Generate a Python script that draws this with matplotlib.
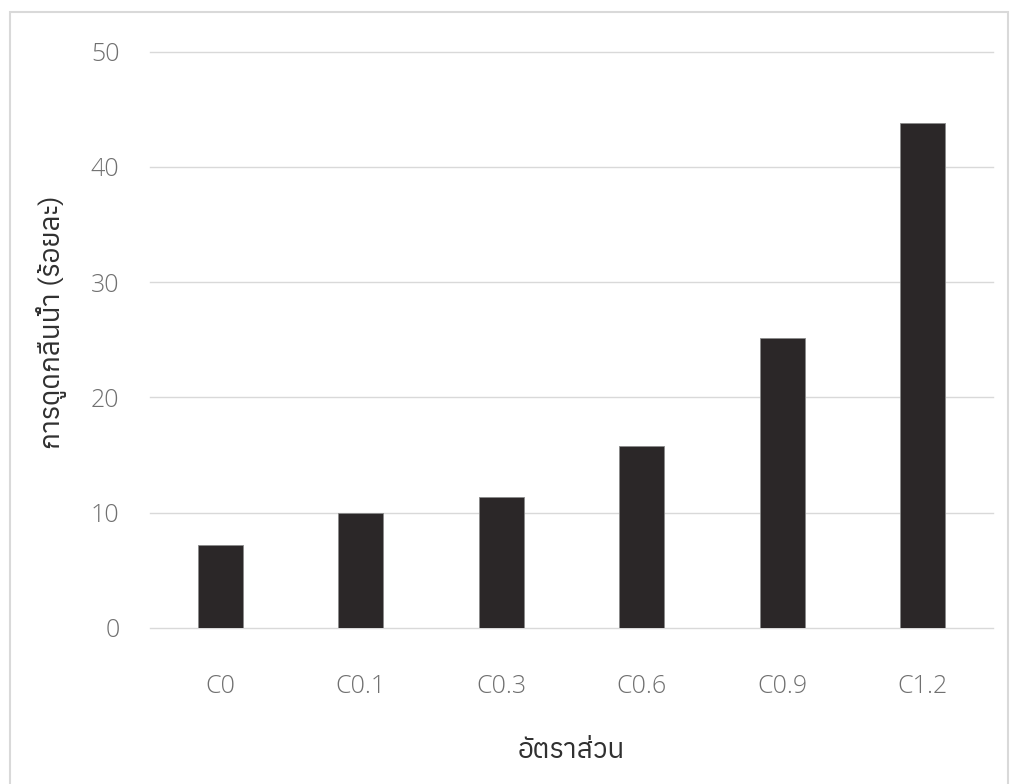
import matplotlib
matplotlib.use("Agg")
import matplotlib.pyplot as plt
from matplotlib import font_manager
from matplotlib.patches import Rectangle
from fontTools.ttLib import TTFont

# Data
categories = ["C0", "C0.1", "C0.3", "C0.6", "C0.9", "C1.2"]
absorption = [7.2, 10.0, 11.4, 15.8, 25.2, 43.8]
y_ticks = [0, 10, 20, 30, 40, 50]
x_label = "อัตราส่วน"
y_label = "การดูดกลืนน้ำ (ร้อยละ)"


def find_thai_font():
    # look for an installed font with Thai glyphs, regular weight preferred
    found = []
    for f in font_manager.fontManager.ttflist:
        try:
            cmap = TTFont(f.fname, fontNumber=0, lazy=True).getBestCmap()
        except Exception:
            continue
        if cmap and 0x0E01 in cmap and 0x0E49 in cmap:
            w = f.weight if isinstance(f.weight, int) else 400
            found.append((abs(w - 400), f.style != "normal", f.name))
    if not found:
        return None
    found.sort()
    return found[0][2]


thai_font = find_thai_font()
label_family = [thai_font, "DejaVu Sans"] if thai_font else ["DejaVu Sans"]

fig = plt.figure(figsize=(10.14, 7.84), dpi=100)
ax = fig.add_axes([0.148, 0.199, 0.831, 0.735])

x = range(len(categories))
ax.bar(x, absorption, width=0.32, color="#2b2728", edgecolor="#8a8a8a",
       linewidth=0.6, zorder=3)

ax.set_xlim(-0.5, len(categories) - 0.5)
ax.set_ylim(0, 50)
ax.set_yticks(y_ticks)
ax.set_xticks(list(x))
ax.set_xticklabels(categories)
ax.grid(axis="y", color="#d9d9d9", linewidth=1.0, zorder=0)
for g in ax.get_ygridlines():
    g.set_clip_on(False)
for s in ax.spines.values():
    s.set_visible(False)
ax.tick_params(length=0, labelsize=18, labelcolor="#707070")
ax.tick_params(axis="x", pad=33)
ax.tick_params(axis="y", pad=22)
for lab in ax.get_xticklabels() + ax.get_yticklabels():
    lab.set_family(["Open Sans", "DejaVu Sans"])
    lab.set_fontweight("light")

ax.set_xlabel(x_label, fontsize=20, color="#303030", family=label_family,
              fontweight="normal")
ax.xaxis.set_label_coords(0.5, -0.19)
ax.set_ylabel(y_label, fontsize=20, color="#303030", family=label_family,
              fontweight="normal")
ax.yaxis.set_label_coords(-0.098, 0.53)

# light frame around the chart area
fig.patches.append(Rectangle((0.010, -0.02), 0.984, 1.005, transform=fig.transFigure,
                             fill=False, edgecolor="#d9d9d9", linewidth=1.5))

fig.savefig("out.png", dpi=100)
